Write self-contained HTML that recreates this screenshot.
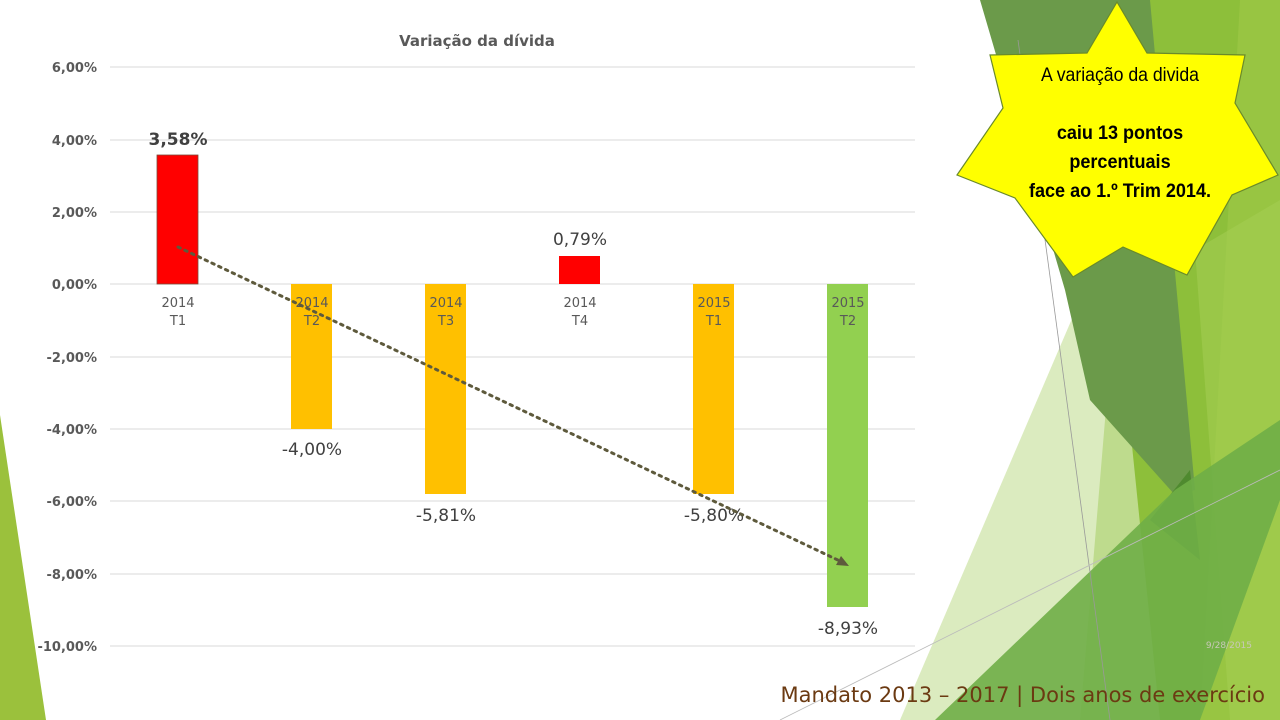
<!DOCTYPE html>
<html><head><meta charset="utf-8"><style>
html,body{margin:0;padding:0;background:#fff;}
svg{display:block;}
</style></head><body>
<svg width="1280" height="720" viewBox="0 0 1280 720" xmlns="http://www.w3.org/2000/svg">
<!-- background shapes -->
<polygon points="0,415 46,720 0,720" fill="#9bc13c"/>
<polygon points="1140,0 1280,0 1280,720 1080,720" fill="#8dbf3a"/>
<polygon points="1240,0 1280,0 1280,720 1200,720" fill="#9dc846" opacity="0.7"/>
<polygon points="1195,250 1280,200 1280,720 1230,720" fill="#a4cd52" opacity="0.6"/>
<polygon points="900,720 1110,230 1160,720" fill="#cfe4a9" opacity="0.75"/>
<polygon points="980,0 1150,0 1195,490 1175,495 1090,400 1065,290" fill="#6b9a4a"/>
<polygon points="1150,520 1190,470 1200,560" fill="#4f8a2f"/>
<polygon points="935,720 1175,490 1280,420 1280,500 1200,720" fill="#6fae47" opacity="0.9"/>
<line x1="1018" y1="40" x2="1110" y2="720" stroke="#999" stroke-width="0.8"/>
<line x1="780" y1="720" x2="1280" y2="470" stroke="#bbb" stroke-width="0.8"/>

<!-- gridlines -->
<g stroke="#d9d9d9" stroke-width="1">
<line x1="110" y1="67" x2="915" y2="67"/>
<line x1="110" y1="140" x2="915" y2="140"/>
<line x1="110" y1="212" x2="915" y2="212"/>
<line x1="110" y1="284" x2="915" y2="284"/>
<line x1="110" y1="357" x2="915" y2="357"/>
<line x1="110" y1="429" x2="915" y2="429"/>
<line x1="110" y1="501" x2="915" y2="501"/>
<line x1="110" y1="574" x2="915" y2="574"/>
<line x1="110" y1="646" x2="915" y2="646"/>
</g>
<g font-family="DejaVu Sans, sans-serif" font-size="13" font-weight="bold" fill="#595959" text-anchor="end">
<text x="97" y="72">6,00%</text>
<text x="97" y="145">4,00%</text>
<text x="97" y="217">2,00%</text>
<text x="97" y="289">0,00%</text>
<text x="97" y="362">-2,00%</text>
<text x="97" y="434">-4,00%</text>
<text x="97" y="506">-6,00%</text>
<text x="97" y="579">-8,00%</text>
<text x="97" y="651">-10,00%</text>
</g>
<text x="477" y="46" font-family="DejaVu Sans, sans-serif" font-size="15" font-weight="bold" fill="#595959" text-anchor="middle">Variação da dívida</text>

<!-- bars -->
<rect x="157" y="155" width="41" height="129" fill="#ff0000" stroke="#7a4a3a" stroke-width="0.8"/>
<rect x="291" y="284" width="41" height="145" fill="#ffc000"/>
<rect x="425" y="284" width="41" height="210" fill="#ffc000"/>
<rect x="559" y="256" width="41" height="28" fill="#ff0000"/>
<rect x="693" y="284" width="41" height="210" fill="#ffc000"/>
<rect x="827" y="284" width="41" height="323" fill="#92d050"/>

<!-- category labels -->
<g font-family="DejaVu Sans, sans-serif" font-size="13" fill="#595959" text-anchor="middle">
<text x="178" y="307">2014</text><text x="178" y="325">T1</text>
<text x="312" y="307">2014</text><text x="312" y="325">T2</text>
<text x="446" y="307">2014</text><text x="446" y="325">T3</text>
<text x="580" y="307">2014</text><text x="580" y="325">T4</text>
<text x="714" y="307">2015</text><text x="714" y="325">T1</text>
<text x="848" y="307">2015</text><text x="848" y="325">T2</text>
</g>
<!-- data labels -->
<g font-family="DejaVu Sans, sans-serif" font-size="17" fill="#404040" text-anchor="middle">
<text x="178" y="145" font-weight="bold">3,58%</text>
<text x="312" y="455">-4,00%</text>
<text x="446" y="521">-5,81%</text>
<text x="580" y="245">0,79%</text>
<text x="714" y="521">-5,80%</text>
<text x="848" y="634">-8,93%</text>
</g>

<!-- trend line -->
<line x1="178" y1="247" x2="842" y2="562" stroke="#5e5a3c" stroke-width="3" stroke-dasharray="2.5 5" stroke-linecap="round"/>
<polygon points="849,566 836,565 841,556" fill="#5e5a3c"/>

<!-- star -->
<polygon points="1117,2 1147,53 1245,55 1235,103 1278,175 1232,195 1187,275 1123,247 1073,277 1015,198 957,175 1003,108 990,55 1087,53" fill="#ffff00" stroke="#6a8a2a" stroke-width="1.2"/>
<g font-family="Liberation Sans, sans-serif" font-size="19" fill="#000" text-anchor="middle">
<text x="1120" y="81" transform="translate(1120 0) scale(0.93 1) translate(-1120 0)">A variação da divida</text>
<g font-weight="bold" transform="translate(1120 0) scale(0.95 1) translate(-1120 0)">
<text x="1120" y="139">caiu 13 pontos</text>
<text x="1120" y="168">percentuais</text>
<text x="1120" y="197">face ao 1.º Trim 2014.</text>
</g>
</g>

<text x="1252" y="648" font-family="DejaVu Sans, sans-serif" font-size="9" fill="#c8c8b8" text-anchor="end">9/28/2015</text>
<text x="1265" y="702" font-family="DejaVu Sans, sans-serif" font-size="21" fill="#6b3a12" text-anchor="end">Mandato 2013 – 2017 | Dois anos de exercício</text>
</svg>
</body></html>
